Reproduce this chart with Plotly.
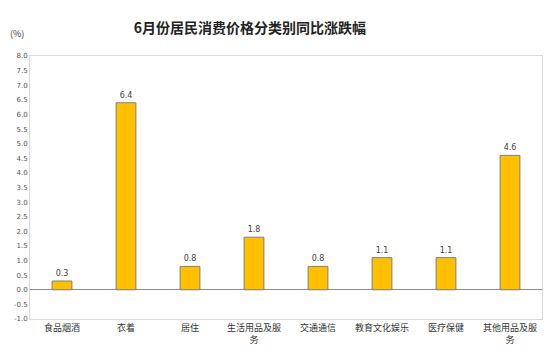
import plotly.graph_objects as go

categories = ["食品烟酒", "衣着", "居住", "生活用品及服<br>务", "交通通信", "教育文化娱乐", "医疗保健", "其他用品及服<br>务"]
values = [0.3, 6.4, 0.8, 1.8, 0.8, 1.1, 1.1, 4.6]
tick_vals = [i * 0.5 for i in range(-2, 17)]
tick_text = [f"{v:.1f}" for v in tick_vals]

fig = go.Figure()
fig.add_trace(go.Bar(
    x=categories, y=values,
    width=0.31,
    marker=dict(color="#FFC000", line=dict(color="#7F7F7F", width=1)),
    text=[f"{v:.1f}" for v in values],
    textposition="outside",
    textfont=dict(size=8, color="#404040", family="DejaVu Sans"),
    cliponaxis=False,
))

fig.update_layout(
    width=546, height=351,
    margin=dict(l=22, r=12, t=48, b=40),
    paper_bgcolor="white", plot_bgcolor="white",
    showlegend=False,
    font=dict(family="Noto Sans CJK SC", color="#333333"),
    title=dict(text="<b>6月份居民消费价格分类别同比涨跌幅</b>", x=0.443, xanchor="center",
               y=0.943, yanchor="middle", font=dict(size=14, color="#222222")),
    annotations=[dict(text="(%)", x=-0.043, y=1.087, xref="paper", yref="paper", showarrow=False,
                      font=dict(size=9, color="#333333"), xanchor="left", yanchor="middle")],
)

fig.update_yaxes(
    range=[-1, 8], tickvals=tick_vals, ticktext=tick_text, automargin=False,
    showgrid=False, zeroline=True, zerolinecolor="#8C8C8C", zerolinewidth=1,
    showline=True, linecolor="#D9D9D9", linewidth=1, mirror=True,
    tickfont=dict(size=7, color="#555555", family="DejaVu Sans"),
    ticks="", ticklen=0,
)
fig.update_xaxes(
    showgrid=False, showline=True, linecolor="#D9D9D9", linewidth=1, mirror=True,
    tickfont=dict(size=9, color="#333333"), ticks="", automargin=False,
)

fig.write_html("out.html")
